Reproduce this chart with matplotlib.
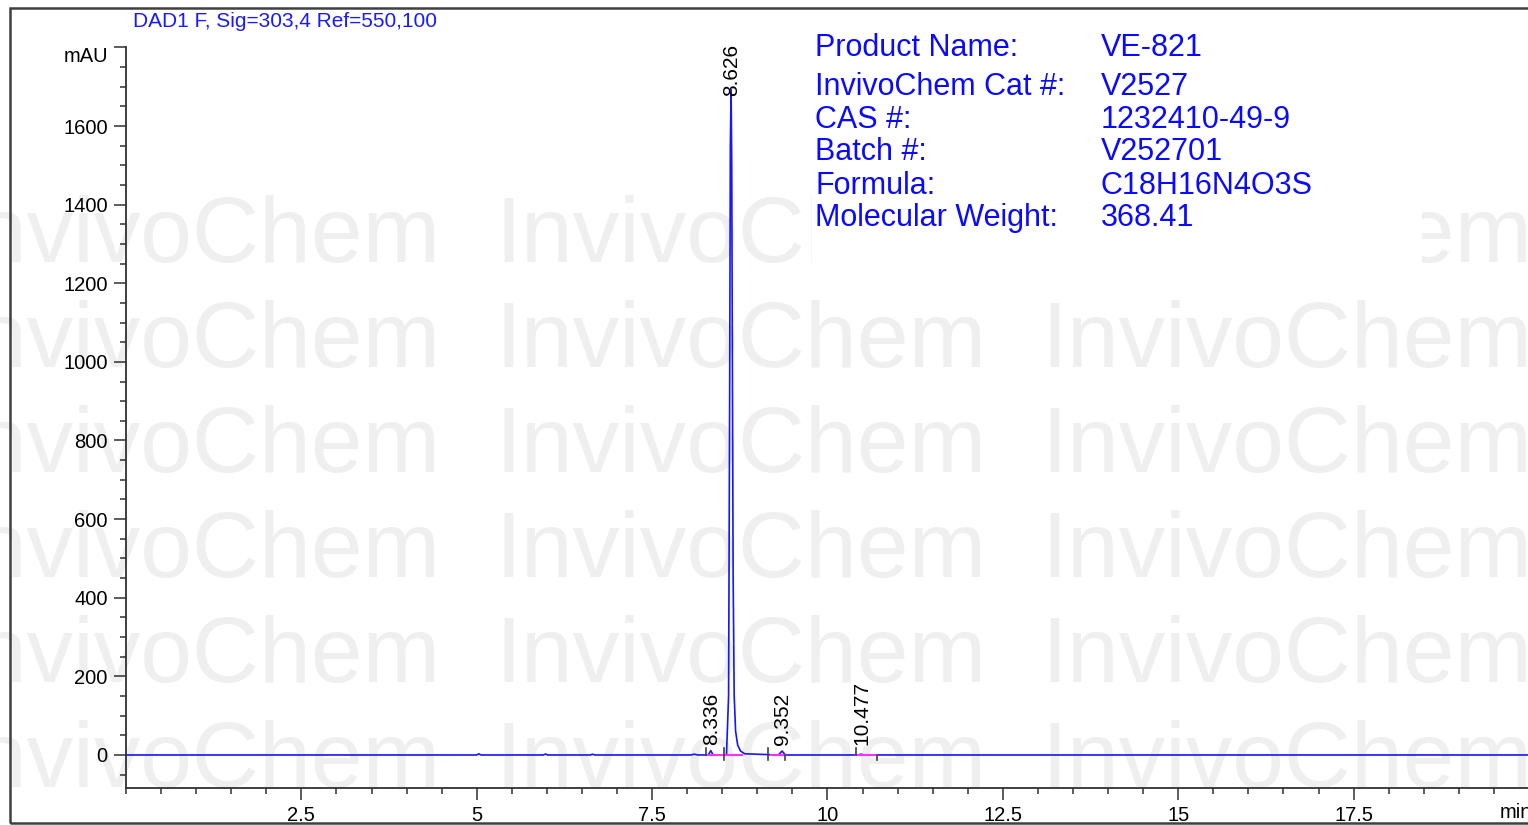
import matplotlib
matplotlib.use("Agg")
import matplotlib.pyplot as plt
from matplotlib.patches import Rectangle
from matplotlib.ticker import MultipleLocator, FixedLocator

# chromatogram trace (time in min, signal in mAU)
trace_time = [0.0, 5.00, 5.03, 5.06, 5.95, 5.98, 6.01, 6.62, 6.65, 6.68,
              8.05, 8.10, 8.15, 8.30, 8.336, 8.37, 8.56, 8.59, 8.605, 8.615,
              8.626, 8.635, 8.645, 8.655, 8.67, 8.69, 8.72, 8.76, 8.82,
              9.30, 9.352, 9.40, 10.44, 10.477, 10.52, 20.0]
trace_mau = [0, 0, 3, 0, 0, 2.5, 0, 0, 2, 0,
             0, 2, 0, 0, 11, 0, 0, 150, 900, 1550,
             1692, 1500, 950, 450, 150, 60, 25, 10, 3,
             0, 10, 0, 0, 2, 0, 0]

# integrated peaks
peak_times = [8.336, 8.626, 9.352, 10.477]
peak_labels = ["8.336", "8.626", "9.352", "10.477"]
peak_label_y = [25, 1676, 25, 25]

# integration baselines (start, end) and event marks
base_start = [8.29, 9.19, 10.41]
base_end = [8.78, 9.40, 10.71]
mark_times = [8.27, 8.52, 9.15, 9.40, 10.40, 10.71]
mark_lo = [0, -14, -14, -14, 0, -14]
mark_hi = [18, 18, 18, 0, 18, 0]

# product info block
info_keys = ["Product Name:", "InvivoChem Cat #:", "CAS #:", "Batch #:",
             "Formula:", "Molecular Weight:"]
info_vals = ["VE-821", "V2527", "1232410-49-9", "V252701", "C18H16N4O3S", "368.41"]

y_ticks = [0, 200, 400, 600, 800, 1000, 1200, 1400, 1600, 1800]
y_ticklabels = ["0", "200", "400", "600", "800", "1000", "1200", "1400", "1600", ""]
x_ticks = [2.5, 5, 7.5, 10, 12.5, 15, 17.5]
x_ticklabels = ["2.5", "5", "7.5", "10", "12.5", "15", "17.5"]

W, H = 1528, 825
fig = plt.figure(figsize=(W / 100, H / 100), dpi=100)
fig.patch.set_facecolor("white")

#watermark grid behind everything
for row in range(7):
    yb = 262 + 105 * row
    for col in range(3):
        xl = -51 + 546 * col
        fig.text(xl / W, 1 - yb / H, "InvivoChem", fontsize=67, color="#efefef",
                 family="Liberation Sans", va="baseline", ha="left", zorder=-2)

# white box behind the info text
fig.patches.append(Rectangle((812 / W, 1 - 268 / H), (1422 - 812) / W, (268 - 22) / H,
                             transform=fig.transFigure, facecolor="white",
                             edgecolor="none", zorder=-1))

# outer frame
fig.patches.append(Rectangle((10 / W, 1 - 823 / H), 1.0, (823 - 8) / H,
                             transform=fig.transFigure, facecolor="none",
                             edgecolor="#404040", lw=1.8, zorder=5))

ax = fig.add_axes([126 / W, 37 / H, (1529 - 126) / W, (788 - 47.4) / H])
ax.patch.set_alpha(0)
ax.set_xlim(0, 20)
ax.set_ylim(-84, 1800)

ax.plot(trace_time, trace_mau, color="#1515ff", lw=1.2, zorder=3)
for s, e in zip(base_start, base_end):
    ax.plot([s, e], [0, 0], color="#ff30ff", lw=1.5, zorder=4)
for t, lo, hi in zip(mark_times, mark_lo, mark_hi):
    ax.plot([t, t], [lo, hi], color="#404040", lw=1.2, zorder=4)

for t, lab, yl in zip(peak_times, peak_labels, peak_label_y):
    ax.text(t + 0.01, yl, lab, rotation=90, ha="center", va="bottom", fontsize=15,
            family="Liberation Sans", color="black", zorder=5)

for sp in ["top", "right"]:
    ax.spines[sp].set_visible(False)
for sp in ["left", "bottom"]:
    ax.spines[sp].set_color("#303030")
    ax.spines[sp].set_linewidth(1.3)

ax.yaxis.set_major_locator(FixedLocator(y_ticks))
ax.set_yticklabels(y_ticklabels)
ax.yaxis.set_minor_locator(MultipleLocator(50))
ax.xaxis.set_major_locator(FixedLocator(x_ticks))
ax.set_xticklabels(x_ticklabels)
ax.xaxis.set_minor_locator(MultipleLocator(0.5))
ax.tick_params(which="major", length=8.6, width=1.1, color="#303030", pad=4.5,
               labelsize=14.5)
ax.tick_params(which="minor", length=4.3, width=1.1, color="#303030")
for lab in ax.get_xticklabels() + ax.get_yticklabels():
    lab.set_family("Liberation Sans")

fig.text(108 / W, 1 - 56 / H, "mAU", fontsize=14.5, family="Liberation Sans",
         ha="right", va="center")
fig.text(1500 / W, 1 - 813 / H, "min", fontsize=14.5, family="Liberation Sans",
         ha="left", va="center")

# signal header
fig.text(133 / W, 1 - 27 / H, "DAD1 F, Sig=303,4 Ref=550,100", fontsize=15,
         family="Liberation Sans", color="#1a1aff", va="baseline", ha="left")

# info text
info_base = [56, 95, 128, 160, 194, 226]
for k, v, yb in zip(info_keys, info_vals, info_base):
    fig.text(815 / W, 1 - yb / H, k, fontsize=22, family="Liberation Sans",
             color="#0a0aff", va="baseline", ha="left")
    fig.text(1101 / W, 1 - yb / H, v, fontsize=22, family="Liberation Sans",
             color="#0a0aff", va="baseline", ha="left")

fig.savefig("out.png", dpi=100)
